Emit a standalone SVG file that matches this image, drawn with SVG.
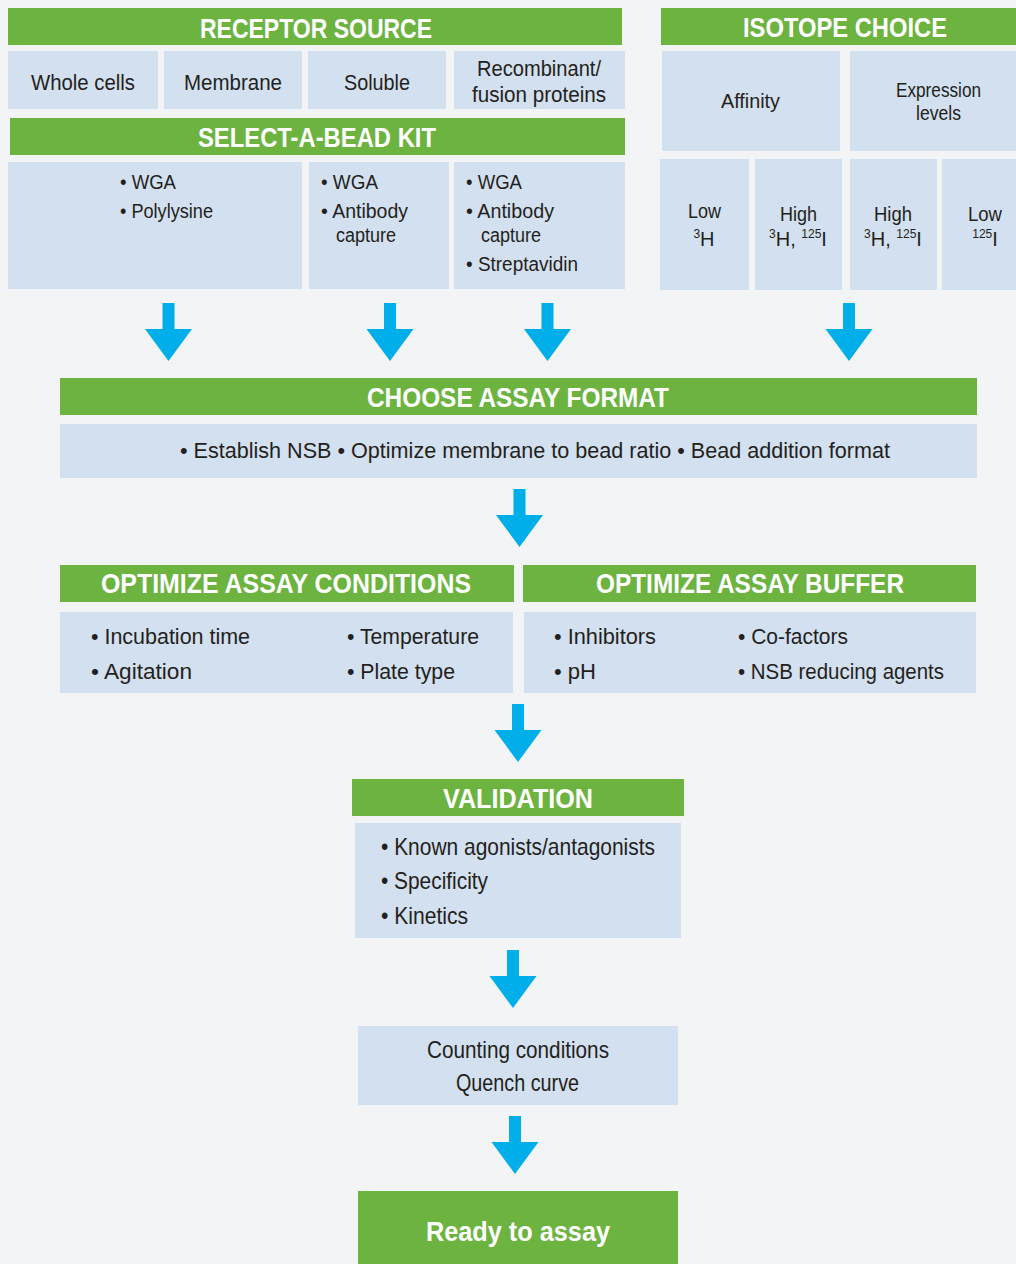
<svg xmlns="http://www.w3.org/2000/svg" width="1016" height="1264" viewBox="0 0 1016 1264">
<style>
.bg{fill:#f2f4f6}
.hd{fill:#6cb33f}
.bx{fill:#d3e0ef}
.ht{font-family:"Liberation Sans",Arial,sans-serif;font-weight:bold;font-size:28px;fill:#ffffff;text-anchor:middle}
.t{font-family:"Liberation Sans",Arial,sans-serif;font-size:22px;fill:#231f20}
.l{font-size:24px}
.s{font-family:"Liberation Sans",Arial,sans-serif;font-size:20px;fill:#231f20}
.m{text-anchor:middle}
.arr{fill:#00aeea}
</style>
<defs>
<path id="arrow" d="M-6,0 H6 V26 H23.5 L0,58 L-23.5,26 H-6 Z"/>
</defs>
<rect class="bg" x="0" y="0" width="1016" height="1264"/>

<g id="receptor-source">
<rect class="hd" x="8" y="8" width="614" height="37"/>
<text class="ht" x="316" y="37.5" textLength="232" lengthAdjust="spacingAndGlyphs">RECEPTOR SOURCE</text>
</g>
<g id="whole-cells">
<rect class="bx" x="8" y="51" width="150" height="58"/>
<text class="t m" x="83" y="90" font-size="23" textLength="104" lengthAdjust="spacingAndGlyphs">Whole cells</text>
</g>
<g id="membrane">
<rect class="bx" x="164" y="51" width="138" height="58"/>
<text class="t m" x="233" y="90" font-size="23" textLength="98" lengthAdjust="spacingAndGlyphs">Membrane</text>
</g>
<g id="soluble">
<rect class="bx" x="308" y="51" width="138" height="58"/>
<text class="t m" x="377" y="90" font-size="23" textLength="66" lengthAdjust="spacingAndGlyphs">Soluble</text>
</g>
<g id="recombinant">
<rect class="bx" x="454" y="51" width="171" height="58"/>
<text class="t m" x="539" y="75.5" font-size="23" textLength="124" lengthAdjust="spacingAndGlyphs">Recombinant/</text>
<text class="t m" x="539" y="102" font-size="23" textLength="134" lengthAdjust="spacingAndGlyphs">fusion proteins</text>
</g>

<g id="select-a-bead-kit">
<rect class="hd" x="10" y="118" width="615" height="37"/>
<text class="ht" x="317" y="147" textLength="238" lengthAdjust="spacingAndGlyphs">SELECT-A-BEAD KIT</text>
</g>
<g id="bead-1">
<rect class="bx" x="8" y="162" width="294" height="127"/>
<text class="s" x="120" y="188.5" textLength="56" lengthAdjust="spacingAndGlyphs">• WGA</text>
<text class="s" x="120" y="217.5" textLength="93" lengthAdjust="spacingAndGlyphs">• Polylysine</text>
</g>
<g id="bead-2">
<rect class="bx" x="309" y="162" width="140" height="127"/>
<text class="s" x="321" y="188.5" textLength="57" lengthAdjust="spacingAndGlyphs">• WGA</text>
<text class="s" x="321" y="218" textLength="87" lengthAdjust="spacingAndGlyphs">• Antibody</text>
<text class="s" x="336" y="242" textLength="60" lengthAdjust="spacingAndGlyphs">capture</text>
</g>
<g id="bead-3">
<rect class="bx" x="454" y="162" width="171" height="127"/>
<text class="s" x="466" y="188.5" textLength="56" lengthAdjust="spacingAndGlyphs">• WGA</text>
<text class="s" x="466" y="218" textLength="88" lengthAdjust="spacingAndGlyphs">• Antibody</text>
<text class="s" x="481" y="242" textLength="60" lengthAdjust="spacingAndGlyphs">capture</text>
<text class="s" x="466" y="270.5" textLength="112" lengthAdjust="spacingAndGlyphs">• Streptavidin</text>
</g>

<g id="isotope-choice">
<rect class="hd" x="661" y="8" width="360" height="37"/>
<text class="ht" x="845" y="37" textLength="204" lengthAdjust="spacingAndGlyphs">ISOTOPE CHOICE</text>
</g>
<g id="affinity">
<rect class="bx" x="662" y="51" width="178" height="100"/>
<text class="s m" x="750.5" y="108" textLength="59" lengthAdjust="spacingAndGlyphs">Affinity</text>
</g>
<g id="expression-levels">
<rect class="bx" x="850" y="51" width="171" height="100"/>
<text class="s m" x="938.5" y="97" textLength="85" lengthAdjust="spacingAndGlyphs">Expression</text>
<text class="s m" x="938.5" y="120" textLength="45" lengthAdjust="spacingAndGlyphs">levels</text>
</g>
<g id="affinity-low">
<rect class="bx" x="660" y="159" width="89" height="131"/>
<text class="s m" x="704.5" y="218" textLength="33" lengthAdjust="spacingAndGlyphs">Low</text>
<text class="s m" x="704" y="246"><tspan font-size="12" dy="-8">3</tspan><tspan dy="8">H</tspan></text>
</g>
<g id="affinity-high">
<rect class="bx" x="755" y="159" width="87" height="131"/>
<text class="s m" x="798.5" y="221" textLength="37" lengthAdjust="spacingAndGlyphs">High</text>
<text class="s m" x="798" y="246"><tspan font-size="12" dy="-8">3</tspan><tspan dy="8">H, </tspan><tspan font-size="12" dy="-8">125</tspan><tspan dy="8">I</tspan></text>
</g>
<g id="expression-high">
<rect class="bx" x="850" y="159" width="87" height="131"/>
<text class="s m" x="893" y="221" textLength="38" lengthAdjust="spacingAndGlyphs">High</text>
<text class="s m" x="893" y="246"><tspan font-size="12" dy="-8">3</tspan><tspan dy="8">H, </tspan><tspan font-size="12" dy="-8">125</tspan><tspan dy="8">I</tspan></text>
</g>
<g id="expression-low">
<rect class="bx" x="942" y="159" width="80" height="131"/>
<text class="s m" x="985" y="221" textLength="34" lengthAdjust="spacingAndGlyphs">Low</text>
<text class="s m" x="985" y="246"><tspan font-size="12" dy="-8">125</tspan><tspan dy="8">I</tspan></text>
</g>

<g id="choose-assay-format">
<rect class="hd" x="60" y="378" width="917" height="37"/>
<text class="ht" x="518" y="407" textLength="302" lengthAdjust="spacingAndGlyphs">CHOOSE ASSAY FORMAT</text>
<rect class="bx" x="60" y="424" width="917" height="54"/>
<text class="t" x="180" y="458" textLength="710" lengthAdjust="spacingAndGlyphs">• Establish NSB  • Optimize membrane to bead ratio  • Bead addition format</text>
</g>

<g id="optimize-assay-conditions">
<rect class="hd" x="60" y="565" width="454" height="37"/>
<text class="ht" x="286" y="593" textLength="370" lengthAdjust="spacingAndGlyphs">OPTIMIZE ASSAY CONDITIONS</text>
<rect class="bx" x="60" y="612" width="453" height="81"/>
<text class="t" x="91" y="644" textLength="159" lengthAdjust="spacingAndGlyphs">• Incubation time</text>
<text class="t" x="91" y="679" textLength="101" lengthAdjust="spacingAndGlyphs">• Agitation</text>
<text class="t" x="347" y="644" textLength="132" lengthAdjust="spacingAndGlyphs">• Temperature</text>
<text class="t" x="347" y="679" textLength="108" lengthAdjust="spacingAndGlyphs">• Plate type</text>
</g>
<g id="optimize-assay-buffer">
<rect class="hd" x="523" y="565" width="453" height="37"/>
<text class="ht" x="750" y="593" textLength="308" lengthAdjust="spacingAndGlyphs">OPTIMIZE ASSAY BUFFER</text>
<rect class="bx" x="524" y="612" width="452" height="81"/>
<text class="t" x="554" y="644" textLength="102" lengthAdjust="spacingAndGlyphs">• Inhibitors</text>
<text class="t" x="554" y="679" textLength="42" lengthAdjust="spacingAndGlyphs">• pH</text>
<text class="t" x="738" y="644" textLength="110" lengthAdjust="spacingAndGlyphs">• Co-factors</text>
<text class="t" x="738" y="679" textLength="206" lengthAdjust="spacingAndGlyphs">• NSB reducing agents</text>
</g>

<g id="validation">
<rect class="hd" x="352" y="779" width="332" height="37"/>
<text class="ht" x="518" y="807.5" textLength="150" lengthAdjust="spacingAndGlyphs">VALIDATION</text>
<rect class="bx" x="355" y="823" width="326" height="115"/>
<text class="t l" x="381" y="855" textLength="274" lengthAdjust="spacingAndGlyphs">• Known agonists/antagonists</text>
<text class="t l" x="381" y="889" textLength="107" lengthAdjust="spacingAndGlyphs">• Specificity</text>
<text class="t l" x="381" y="924" textLength="87" lengthAdjust="spacingAndGlyphs">• Kinetics</text>
</g>

<g id="counting">
<rect class="bx" x="358" y="1026" width="320" height="79"/>
<text class="t m l" x="518" y="1058" textLength="182" lengthAdjust="spacingAndGlyphs">Counting conditions</text>
<text class="t m l" x="517.5" y="1091" textLength="123" lengthAdjust="spacingAndGlyphs">Quench curve</text>
</g>

<g id="ready-to-assay">
<rect class="hd" x="358" y="1191" width="320" height="80"/>
<text class="ht" x="518" y="1241" font-size="30" textLength="184" lengthAdjust="spacingAndGlyphs">Ready to assay</text>
</g>

<g id="connectors" class="arr">
<use href="#arrow" x="168.5" y="303"/>
<use href="#arrow" x="390" y="303"/>
<use href="#arrow" x="547.5" y="303"/>
<use href="#arrow" x="849" y="303"/>
<use href="#arrow" x="519.5" y="489"/>
<use href="#arrow" x="518" y="704"/>
<use href="#arrow" x="513" y="950"/>
<use href="#arrow" x="515" y="1116"/>
</g>
</svg>
